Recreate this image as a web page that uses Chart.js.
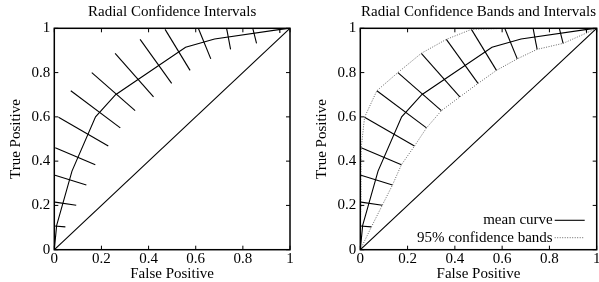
<!DOCTYPE html>
<html>
<head>
<meta charset="utf-8">
<title>Radial Confidence Intervals</title>
<script src="https://cdn.jsdelivr.net/npm/chart.js@4.4.0/dist/chart.umd.min.js"></script>
<style>
  html, body { margin: 0; padding: 0; background: #fff; }
  .panel { position: absolute; top: 0; height: 282px; }
</style>
</head>
<body>
<div class="panel" style="left:0;width:300px"><canvas id="intervalsChart" width="300" height="282"></canvas></div>
<div class="panel" style="left:306px;width:293px"><canvas id="bandsChart" width="293" height="282"></canvas></div>
<script>
// ---- data ----
const tickValues = [0, 0.2, 0.4, 0.6, 0.8, 1];

// mean ROC curve
const meanX = [0, 0.01, 0.075, 0.175, 0.26, 0.557, 0.68, 0.96, 1];
const meanY = [0, 0.11, 0.355, 0.60, 0.70, 0.914, 0.952, 0.995, 1];

// radial intervals: upper end / lower end of each one
const upperX = [0.0, 0.003, 0.003, 0.004, 0.018, 0.070, 0.159, 0.258, 0.364, 0.470, 0.611, 0.731, 0.842, 0.956];
const upperY = [0.107, 0.215, 0.336, 0.461, 0.598, 0.718, 0.800, 0.887, 0.950, 0.995, 1.0, 1.0, 1.0, 1.0];
const lowerX = [0.047, 0.093, 0.136, 0.174, 0.229, 0.280, 0.343, 0.421, 0.498, 0.576, 0.664, 0.748, 0.858, 0.957];
const lowerY = [0.103, 0.201, 0.292, 0.384, 0.468, 0.550, 0.628, 0.690, 0.751, 0.810, 0.862, 0.905, 0.932, 0.979];

// chance diagonal
const diagX = [0, 1];
const diagY = [0, 1];

// ---- global look (gnuplot-ish) ----
Chart.defaults.font.family = "'Liberation Serif', 'Times New Roman', serif";
Chart.defaults.font.size = 15;
Chart.defaults.color = '#000';
Chart.defaults.animation = false;
Chart.defaults.events = [];

function points(xs, ys) {
    return xs.map((x, i) => ({ x: x, y: ys[i] }));
}

function solid(data, label) {
    return {
        label: label,
        data: data,
        showLine: true,
        borderColor: '#000',
        borderWidth: 1.1,
        pointRadius: 0,
        tension: 0,
        fill: false,
    };
}

function dotted(data, label) {
    const ds = solid(data, label);
    ds.borderColor = '#666';
    ds.borderWidth = 1;
    ds.borderDash = [1, 1.5];
    return ds;
}

function intervalDatasets() {
    return upperX.map((ux, i) => solid([{ x: ux, y: upperY[i] }, { x: lowerX[i], y: lowerY[i] }]));
}

// inward ticks on all four sides plus the closed border
const gnuplotFrame = {
    id: 'gnuplotFrame',
    afterDatasetsDraw(chart) {
        const { ctx, chartArea: a, scales: { x, y } } = chart;
        ctx.save();
        ctx.strokeStyle = '#000';
        ctx.lineWidth = 1;
        ctx.beginPath();
        tickValues.forEach(v => {
            const px = x.getPixelForValue(v);
            const py = y.getPixelForValue(v);
            ctx.moveTo(px, a.bottom); ctx.lineTo(px, a.bottom - 4);
            ctx.moveTo(px, a.top); ctx.lineTo(px, a.top + 4);
            ctx.moveTo(a.left, py); ctx.lineTo(a.left + 4, py);
            ctx.moveTo(a.right, py); ctx.lineTo(a.right - 4, py);
        });
        ctx.stroke();
        ctx.lineWidth = 1.5;
        ctx.strokeRect(a.left, a.top, a.right - a.left, a.bottom - a.top);
        ctx.restore();
    },
};

// key in the lower right corner: text right-aligned, line sample after it
const cornerKey = {
    id: 'cornerKey',
    afterDraw(chart) {
        const { ctx, chartArea: a } = chart;
        const items = chart.data.datasets.filter(d => d.inKey);
        ctx.save();
        ctx.font = "15px 'Liberation Serif', 'Times New Roman', serif";
        ctx.fillStyle = '#000';
        ctx.textAlign = 'right';
        ctx.textBaseline = 'middle';
        items.forEach((d, i) => {
            const yy = a.bottom - 29.4 + i * 17.4;
            ctx.fillText(d.label, a.right - 44, yy);
            ctx.strokeStyle = d.borderColor;
            ctx.lineWidth = d.borderWidth;
            ctx.setLineDash(d.borderDash || []);
            ctx.beginPath();
            ctx.moveTo(a.right - 42, yy);
            ctx.lineTo(a.right - 12, yy);
            ctx.stroke();
        });
        ctx.restore();
    },
};

function axis(titleText, isX) {
    return {
        type: 'linear',
        min: 0,
        max: 1,
        grid: { display: false, drawTicks: false },
        border: { display: false },
        afterBuildTicks: s => { s.ticks = tickValues.map(v => ({ value: v })); },
        ticks: {
            padding: isX ? 1.5 : 4,
            maxRotation: 0,
            autoSkip: false,
            font: { lineHeight: 1 },
            callback: v => String(+v.toFixed(1)),
        },
        title: {
            display: true,
            text: titleText,
            font: { lineHeight: 1 },
            padding: isX ? { top: 0, bottom: 0 } : { top: 9, bottom: 0 },
        },
        afterFit: s => {
            if (isX) {
                s.height = 32.3;
                s.paddingLeft = 0;
                s.paddingRight = 0;
            } else {
                s.width = 54.3;
                s.paddingTop = 0;
                s.paddingBottom = 0;
            }
        },
    };
}

function makeChart(id, titleText, datasets, rightPad, extraPlugins) {
    return new Chart(document.getElementById(id), {
        type: 'scatter',
        data: { datasets: datasets },
        options: {
            responsive: false,
            layout: { padding: { top: 0, left: 0, bottom: 0, right: rightPad } },
            scales: {
                x: axis('False Positive', true),
                y: axis('True Positive', false),
            },
            plugins: {
                legend: { display: false },
                tooltip: { enabled: false },
                title: {
                    display: true,
                    text: titleText,
                    fullSize: false,
                    color: '#000',
                    font: { size: 15, weight: 'normal', lineHeight: 1 },
                    padding: { top: 4.2, bottom: 9.1 },
                },
            },
        },
        plugins: [gnuplotFrame].concat(extraPlugins),
    });
}

// left: intervals only
makeChart('intervalsChart', 'Radial Confidence Intervals', [
    solid(points(diagX, diagY)),
    solid(points(meanX, meanY), 'mean curve'),
].concat(intervalDatasets()), 10, []);

// right: intervals with dotted bands through their ends
const meanLine = solid(points(meanX, meanY), 'mean curve');
meanLine.inKey = true;
const upperBand = dotted(points([0].concat(upperX, [1]), [0].concat(upperY, [1])), '95% confidence bands');
upperBand.inKey = true;
const lowerBand = dotted(points([0].concat(lowerX, [1]), [0].concat(lowerY, [1])));

makeChart('bandsChart', 'Radial Confidence Bands and Intervals', [
    solid(points(diagX, diagY)),
    meanLine,
    upperBand,
    lowerBand,
].concat(intervalDatasets()), 2.3, [cornerKey]);
</script>
</body>
</html>
